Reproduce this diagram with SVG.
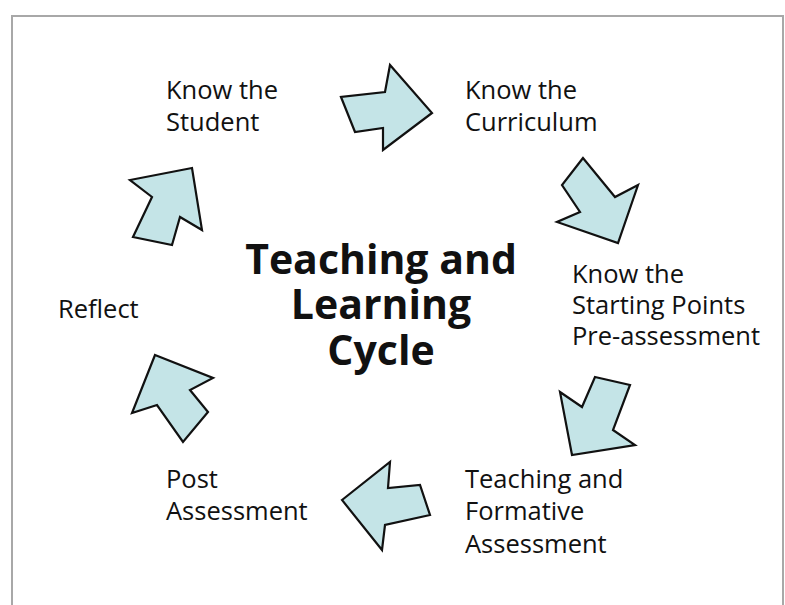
<svg xmlns="http://www.w3.org/2000/svg" width="785" height="605" viewBox="0 0 785 605">
  <style>
    .frame { fill: #ffffff; stroke: #a8a8a8; stroke-width: 2; }
    .arrow { fill: #c4e4e7; stroke: #111111; stroke-width: 2.2; stroke-linejoin: miter; }
    .label { font-family: "Open Sans", "Noto Sans", "DejaVu Sans", sans-serif; font-size: 25.5px; fill: #111111; }
    .title { font-family: "Open Sans", "Noto Sans", "DejaVu Sans", sans-serif; font-size: 41px; font-weight: bold; fill: #111111; text-anchor: middle; }
  </style>

  <rect class="frame" x="12" y="16" width="771" height="600"/>

  <!-- cycle arrows -->
  <g id="connectors">
    <polygon class="arrow" points="341,97 355,132 383,128 383,150 432,113 390,65 385,92"/>
    <polygon class="arrow" points="583,158 562,185 580,212 557,222 618,243 638,185 615,197"/>
    <polygon class="arrow" points="595,377 630,385 613,430 635,445 572,455 560,392 582,407"/>
    <polygon class="arrow" points="342,500 390,462 388,488 420,485 430,515 385,525 382,550"/>
    <polygon class="arrow" points="155,355 213,378 190,390 208,412 183,442 157,405 132,413"/>
    <polygon class="arrow" points="192,168 130,180 152,197 133,237 172,245 180,217 202,230"/>
  </g>

  <g id="center-title">
    <text class="title" x="381" y="274">Teaching and</text>
    <text class="title" x="381" y="319">Learning</text>
    <text class="title" x="381" y="365">Cycle</text>
  </g>

  <g id="know-student">
    <text class="label" x="166" y="99">Know the</text>
    <text class="label" x="166" y="131">Student</text>
  </g>

  <g id="know-curriculum">
    <text class="label" x="465" y="99">Know the</text>
    <text class="label" x="465" y="131">Curriculum</text>
  </g>

  <g id="starting-points">
    <text class="label" x="572" y="283">Know the</text>
    <text class="label" x="572" y="314">Starting Points</text>
    <text class="label" x="572" y="345">Pre-assessment</text>
  </g>

  <g id="teaching-formative">
    <text class="label" x="465" y="488">Teaching and</text>
    <text class="label" x="465" y="520">Formative</text>
    <text class="label" x="465" y="553">Assessment</text>
  </g>

  <g id="post-assessment">
    <text class="label" x="166" y="488">Post</text>
    <text class="label" x="166" y="520">Assessment</text>
  </g>

  <g id="reflect">
    <text class="label" x="58" y="318">Reflect</text>
  </g>
</svg>
